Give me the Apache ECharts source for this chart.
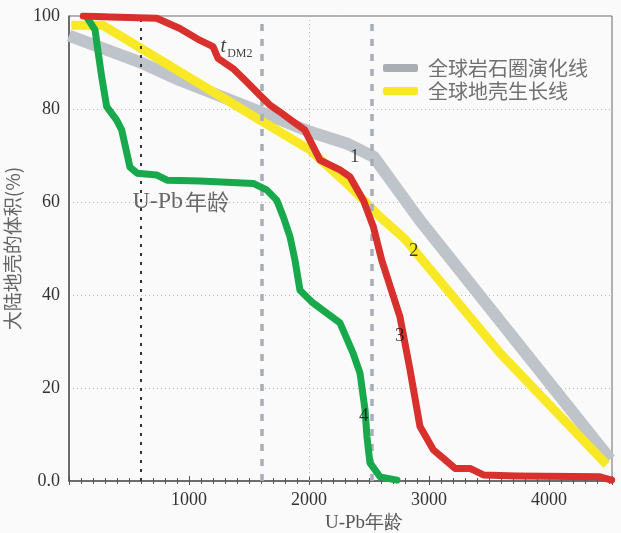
<!DOCTYPE html>
<html>
<head>
<meta charset="utf-8">
<script src="https://cdn.jsdelivr.net/npm/echarts@6/dist/echarts.min.js"></script>
<style>
html,body{margin:0;padding:0;background:#fafafa;}
#c{width:621px;height:533px;}
</style>
</head>
<body>
<div id="c"></div>
<script>
// ---- data ----
const litho_age = [0, 617, 924, 1592, 2008, 2314, 2540, 2925, 4510];
const litho_val = [95.8, 89.8, 86.2, 79.4, 75.1, 72.6, 69.7, 56, 4.7];

const crust_age = [20, 283, 924, 1592, 2008, 2314, 2592, 2800, 3592, 4480];
const crust_val = [98, 98, 88, 77.6, 71.2, 64, 56.8, 52, 27.5, 3.5];

const tdm_age = [119, 342, 731, 924, 1089, 1200, 1242, 1367, 1478, 1589, 1672, 1756, 1867, 1964, 2092, 2258, 2342, 2453, 2536, 2606, 2758, 2842, 2925, 3036, 3119, 3217, 3342, 3453, 3731, 4425, 4522];
const tdm_val = [100, 99.8, 99.5, 97.3, 94.8, 93.4, 90.9, 88.7, 85.9, 83, 80.9, 79.4, 77.3, 75.5, 69, 66.9, 65.4, 60.4, 54.7, 47.5, 35.3, 23.9, 11.7, 6.7, 4.9, 2.7, 2.7, 1.3, 1.1, 0.9, 0.2];

const upb_age = [147, 217, 244, 272, 314, 397, 439, 508, 567, 733, 817, 925, 1092, 1536, 1647, 1731, 1786, 1842, 1883, 1925, 2033, 2258, 2367, 2425, 2467, 2483, 2508, 2592, 2733];
const upb_val = [99.8, 97, 92, 87, 80.5, 77.6, 75.5, 67.5, 66.2, 65.8, 64.7, 64.6, 64.5, 64, 62.6, 60.4, 56.8, 52.5, 47.5, 41, 38.3, 34, 27.5, 23.2, 15.3, 9.5, 3.9, 0.9, 0.2];

const xTicks = [0, 1000, 2000, 3000, 4000];
const yTicks = [0, 20, 40, 60, 80, 100];

const refLineBlack = [600];
const refLinesGray = [1610, 2520];
const gridLineX = [2000];

const seriesNames = ['全球岩石圈演化线', '全球地壳生长线', 'tDM2', 'U-Pb年龄'];

const annoText = ['1', '2', '3', '4', 'tDM2', 'U-Pb年龄'];
const annoAge = [2381, 2873, 2756, 2456, 1396, 931];
const annoVal = [69.7, 49.5, 31.2, 14, 93, 60];

// ---- build ----
const pairs = (a, b) => a.map((v, i) => [v, b[i]]);
const serif = '"Liberation Serif","DejaVu Serif",serif';
const cjk = '"Noto Sans CJK SC","Noto Sans",sans-serif';

const chart = echarts.init(document.getElementById('c'), null, {renderer: 'canvas'});

const xMin = 0, xMax = 4525;
const xAxisBase = {
  type: 'value', min: xMin, max: xMax, interval: 1000,
  splitLine: {show: false}
};

const annoData = annoText.map((t, i) => {
  const d = {value: [annoAge[i], annoVal[i]], name: t};
  if (t === 'tDM2') {
    d.label = {formatter: '{t|t}{s|DM2}'};
  } else if (t === 'U-Pb年龄') {
    d.label = {formatter: '{a|U-Pb}{b|年龄}'};
  }
  return d;
});

chart.setOption({
  backgroundColor: '#fafafa',
  animation: false,
  grid: {left: 69, right: 9, top: 16, bottom: 52, containLabel: false, outerBoundsMode: 'none',
    show: true, borderColor: '#6a6a6a', borderWidth: 1, backgroundColor: 'transparent'},
  legend: {
    orient: 'vertical', left: 383, top: 58, itemGap: 3, padding: 0,
    itemWidth: 35, itemHeight: 8, icon: 'roundRect',
    textStyle: {fontFamily: cjk, fontSize: 20, color: '#707070', lineHeight: 20, padding: [0, 0, 0, 5]},
    data: [
      {name: seriesNames[0], itemStyle: {color: '#a9aeb5'}},
      {name: seriesNames[1], itemStyle: {color: '#f8e825'}}
    ]
  },
  xAxis: [
    Object.assign({}, xAxisBase, {
      position: 'bottom',
      axisLine: {show: true, lineStyle: {color: '#555', width: 1.5}},
      axisTick: {show: true, inside: true, length: 5, lineStyle: {color: '#555'}},
      minorTick: {show: true, splitNumber: 10, length: 3, lineStyle: {color: '#555'}},
      axisLabel: {fontFamily: serif, fontSize: 18, color: '#333', margin: 10,
        formatter: v => (xTicks.indexOf(v) > 0 ? String(v) : '')}
    }),
    Object.assign({}, xAxisBase, {
      position: 'bottom',
      axisLine: {show: false},
      axisTick: {show: true, inside: false, length: 4, lineStyle: {color: '#555'}},
      minorTick: {show: true, splitNumber: 10, length: 3, lineStyle: {color: '#555'}},
      axisLabel: {show: false}
    })
  ],
  yAxis: {
    type: 'value', min: yTicks[0], max: yTicks[yTicks.length - 1], interval: 20,
    name: '大陆地壳的体积(%)', nameLocation: 'middle', nameGap: 47, nameRotate: 90,
    nameTextStyle: {fontFamily: cjk, fontSize: 19, color: '#666'},
    axisLine: {show: true, lineStyle: {color: '#555', width: 1.5}},
    axisTick: {show: false},
    axisLabel: {fontFamily: serif, fontSize: 18, color: '#333', margin: 9,
      formatter: v => (v === 0 ? '0.0' : String(v))},
    splitLine: {show: true, lineStyle: {color: '#b8b8b8', width: 1, type: [1, 3]}}
  },
  graphic: [{
    type: 'text', left: 325, top: 514,
    style: {text: 'U-Pb年龄', fontFamily: serif, fontSize: 19, fill: '#555'}
  }],
  series: [
    {
      name: 'grid2000', type: 'line', data: [], z: 1, silent: true,
      markLine: {
        silent: true, symbol: 'none', label: {show: false},
        lineStyle: {color: '#b8b8b8', width: 1, type: [1, 3]},
        data: gridLineX.map(v => ({xAxis: v}))
      }
    },
    {
      name: seriesNames[0], type: 'line', data: pairs(litho_age, litho_val), z: 2,
      showSymbol: false, symbol: 'none', smooth: false,
      lineStyle: {color: '#bfc4cb', width: 12, cap: 'butt', join: 'round'},
      itemStyle: {color: '#bfc4cb'}
    },
    {
      name: seriesNames[1], type: 'line', data: pairs(crust_age, crust_val), z: 3,
      showSymbol: false, symbol: 'none',
      lineStyle: {color: '#f8e825', width: 9, cap: 'butt', join: 'round'},
      itemStyle: {color: '#f8e825'}
    },
    {
      name: 'refs', type: 'line', data: [], z: 4, silent: true,
      markLine: {
        silent: true, symbol: 'none', label: {show: false},
        data: refLineBlack.map(v => ({xAxis: v, lineStyle: {color: '#333', width: 2, type: [3, 6]}}))
          .concat(refLinesGray.map(v => ({xAxis: v, lineStyle: {color: '#a8aeb7', width: 3.5, type: [7, 8]}})))
      }
    },
    {
      name: seriesNames[3], type: 'line', data: pairs(upb_age, upb_val), z: 5,
      showSymbol: false, symbol: 'none',
      lineStyle: {color: '#17a94b', width: 7, cap: 'round', join: 'round'},
      itemStyle: {color: '#17a94b'}
    },
    {
      name: seriesNames[2], type: 'line', data: pairs(tdm_age, tdm_val), z: 6,
      showSymbol: false, symbol: 'none',
      lineStyle: {color: '#d8302c', width: 7, cap: 'round', join: 'round'},
      itemStyle: {color: '#d8302c'}
    },
    {
      name: 'anno', type: 'scatter', z: 7, silent: true,
      symbol: 'circle', symbolSize: 1,
      itemStyle: {color: 'rgba(0,0,0,0)'},
      label: {
        show: true, position: 'inside', formatter: '{b}',
        fontFamily: serif, fontSize: 19, color: '#111',
        rich: {
          t: {fontFamily: serif, fontSize: 20, fontStyle: 'italic', color: '#111', padding: [0, 0, 4, 0]},
          s: {fontFamily: serif, fontSize: 12, color: '#111', padding: [10, 0, 0, 1]},
          a: {fontFamily: serif, fontSize: 24, color: '#444'},
          b: {fontFamily: cjk, fontSize: 22, color: '#444', padding: [0, 0, 0, 2]}
        }
      },
      data: annoData
    }
  ]
});
</script>
</body>
</html>
